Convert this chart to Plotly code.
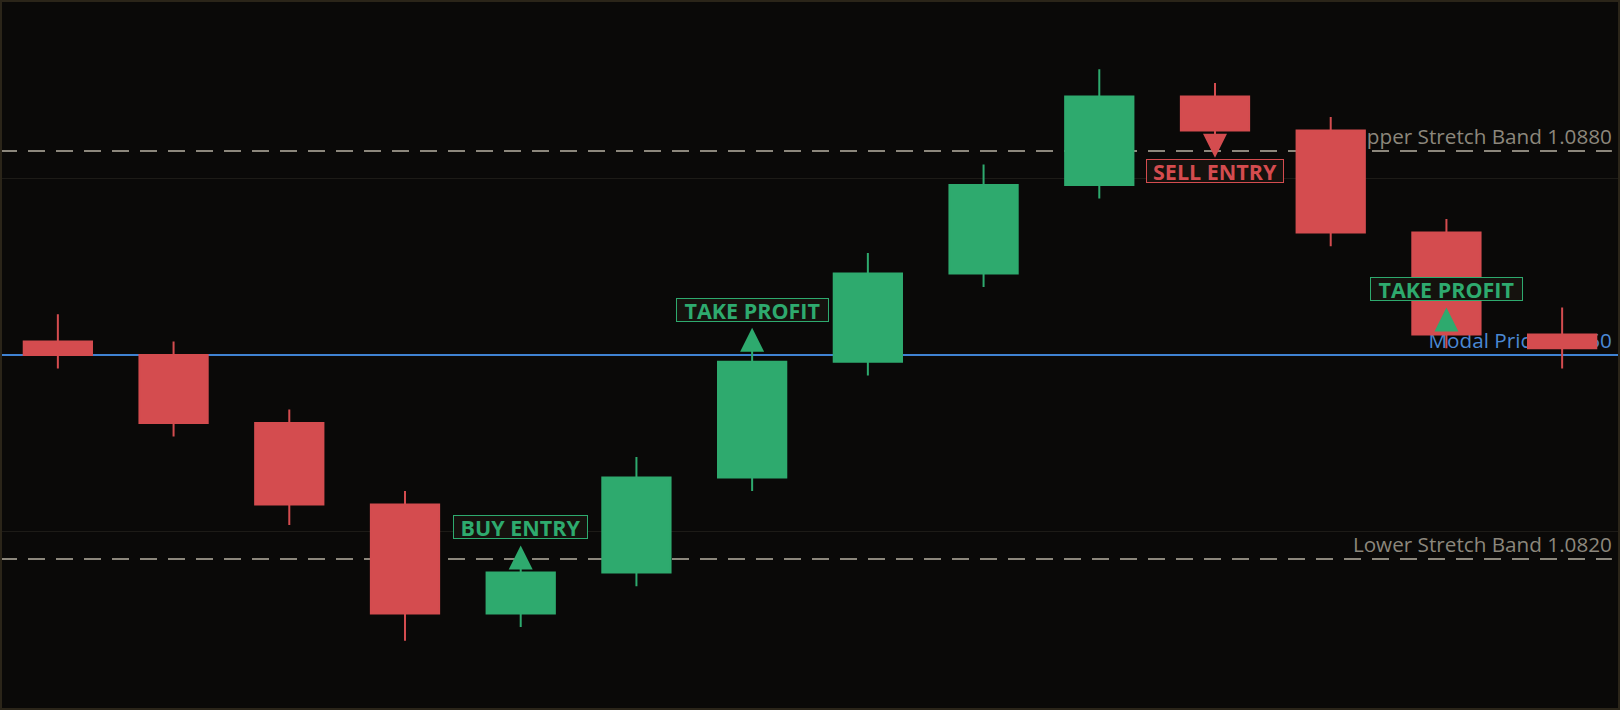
import plotly.graph_objects as go

# candles, one per bar
bars = [0, 1, 2, 3, 4, 5, 6, 7, 8, 9, 10, 11, 12, 13]
opens = [1.0852, 1.0850, 1.0840, 1.0828, 1.0812, 1.0818, 1.0832,
         1.0849, 1.0862, 1.0875, 1.0888, 1.0883, 1.0868, 1.0853]
highs = [1.0856, 1.0852, 1.0842, 1.0830, 1.0820, 1.0835, 1.0851,
         1.0865, 1.0878, 1.0892, 1.0890, 1.0885, 1.0870, 1.0857]
lows = [1.0848, 1.0838, 1.0825, 1.0808, 1.0810, 1.0816, 1.0830,
        1.0847, 1.0860, 1.0873, 1.0881, 1.0866, 1.0851, 1.0848]
closes = [1.0850, 1.0840, 1.0828, 1.0812, 1.0818, 1.0832, 1.0849,
          1.0862, 1.0875, 1.0888, 1.0883, 1.0868, 1.0853, 1.0851]

# reference levels
upper_band = 1.0880
modal_price = 1.0850
lower_band = 1.0820
grid_levels = [1.0824, 1.0876]

# trade signals (marker tip price)
signal_bars = [4, 6, 10, 12]
signal_prices = [1.0822, 1.0854, 1.0879, 1.0857]
signal_names = ["BUY ENTRY", "TAKE PROFIT", "SELL ENTRY", "TAKE PROFIT"]
signal_sides = ["up", "up", "down", "up"]

BG = "#0a0908"
GREEN = "#2eaa6e"
RED = "#d44c4f"
BAND = "#8c877c"
BLUE = "#3f82d2"
FONT = "Open Sans"

box_width = {"BUY ENTRY": 133, "TAKE PROFIT": 151, "SELL ENTRY": 136}

fig = go.Figure()

fig.add_trace(go.Candlestick(
    x=bars, open=opens, high=highs, low=lows, close=closes,
    increasing=dict(line=dict(color=GREEN, width=2), fillcolor=GREEN),
    decreasing=dict(line=dict(color=RED, width=2), fillcolor=RED),
    whiskerwidth=0,
    hoverinfo="none",
    showlegend=False,
))

sig_colors = [GREEN if s == "up" else RED for s in signal_sides]
fig.add_trace(go.Scatter(
    x=signal_bars, y=signal_prices, mode="markers",
    marker=dict(
        symbol=["arrow-up" if s == "up" else "arrow-down" for s in signal_sides],
        size=24, color=sig_colors, line=dict(width=0),
    ),
    hoverinfo="none",
    showlegend=False,
))

# stretch bands (dashed) and modal price line
for level, name in [(upper_band, "Upper Stretch Band"), (lower_band, "Lower Stretch Band")]:
    fig.add_shape(
        type="line", xref="paper", x0=0, x1=0.995, yref="y", y0=level, y1=level,
        line=dict(color=BAND, width=2, dash="17px,11px"), layer="between",
        label=dict(text=f"{name} {level:.4f}", textposition="end", padding=0,
                   font=dict(family=FONT, size=20.7, color=BAND)),
    )

fig.add_shape(
    type="line", xref="paper", x0=0, x1=1, yref="y", y0=modal_price, y1=modal_price,
    line=dict(color=BLUE, width=2), layer="between",
)
fig.add_shape(
    type="line", xref="paper", x0=0, x1=0.995, yref="y", y0=modal_price, y1=modal_price,
    line=dict(color=BLUE, width=0), layer="between",
    label=dict(text=f"Modal Price {modal_price:.4f}", textposition="end", padding=0,
               font=dict(family=FONT, size=20.7, color="#4a88d4")),
)

for bx, py, name, side, col in zip(signal_bars, signal_prices, signal_names, signal_sides, sig_colors):
    fig.add_annotation(
        x=bx, y=py, yshift=18 if side == "up" else -13,
        text=name, showarrow=False,
        font=dict(family=FONT, size=21.5, color=col, weight="bold"),
        bgcolor="#15120e", bordercolor=col, borderwidth=1, borderpad=0,
        width=box_width[name], height=22,
        xanchor="center", yanchor="middle",
    )

# outer frame
fig.add_shape(
    type="rect", xref="paper", yref="paper", x0=0, x1=1, y0=0, y1=1,
    line=dict(color="#2b2519", width=4), fillcolor="rgba(0,0,0,0)", layer="above",
)

fig.update_layout(
    width=1620, height=710,
    margin=dict(l=0, r=0, t=0, b=0),
    paper_bgcolor=BG, plot_bgcolor=BG,
    boxgap=0.41, boxgroupgap=0,
    showlegend=False,
    xaxis=dict(range=[-0.5, 13.5], showgrid=False, zeroline=False,
               showticklabels=False, rangeslider=dict(visible=False), fixedrange=True),
    yaxis=dict(range=[1.07978, 1.09022], tickvals=grid_levels, showgrid=True,
               gridcolor="#1d1b17", gridwidth=1, zeroline=False,
               showticklabels=False, fixedrange=True),
)

fig.write_html(
    "out.html",
    config={"displayModeBar": False},
    post_script="document.body.style.margin='0';document.body.style.background='#0a0908';",
)
